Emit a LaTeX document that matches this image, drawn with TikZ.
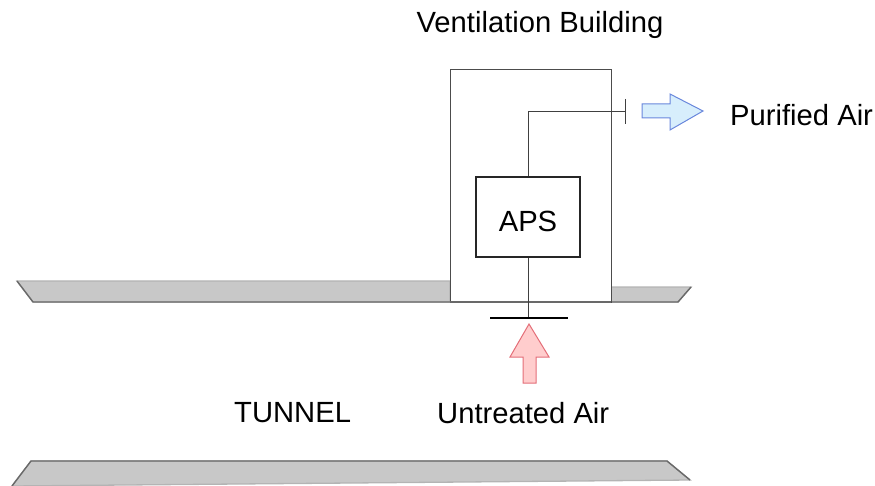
\documentclass[tikz,border=0pt]{standalone}
\usepackage{fontspec}
\setmainfont{Liberation Sans}
\usetikzlibrary{positioning,calc}

\definecolor{slabfill}{RGB}{200,200,200}
\definecolor{slabline}{RGB}{105,105,105}
\definecolor{slabtop}{RGB}{180,180,180}
\definecolor{redfill}{RGB}{255,205,205}
\definecolor{redline}{RGB}{228,110,120}
\definecolor{bluefill}{RGB}{215,238,252}
\definecolor{blueline}{RGB}{105,135,220}

\begin{document}
\begin{tikzpicture}[
  x=1pt,y=-1pt,
  slab/.style={fill=slabfill,draw=slabtop,line width=1.3pt,line join=miter},
  slabedge/.style={draw=slabline,line width=1.4pt,line join=miter},
  bldg/.style={draw=black!70,fill=white,line width=1pt},
  apsbox/.style={draw=black!85,line width=2pt,minimum width=104pt,minimum height=80pt,inner sep=0pt},
  pipe/.style={draw=black!75,line width=1pt},
  bar/.style={draw=black,line width=1.4pt},
  lbl/.style={font=\fontsize{29.2}{33}\selectfont,inner sep=0pt},
  inarrow/.style={fill=redfill,draw=redline,line width=1pt,line join=miter},
  outarrow/.style={fill=bluefill,draw=blueline,line width=1pt,line join=miter},
]
  \useasboundingbox (0,0) rectangle (875,486);

  % tunnel slabs
  \draw[slab] (17,281) -- (450,281) -- (450,302) -- (33,302) -- cycle;
  \draw[slabedge] (17,281) -- (33,302) -- (450,302);
  \draw[slab] (611,287) -- (691,287) -- (678,302) -- (611,302) -- cycle;
  \draw[slabedge] (611,302) -- (678,302) -- (691,287);
  \draw[slab] (31,461) -- (667,461) -- (690,480) -- (12,486) -- cycle;
  \draw[slabedge] (12,486) -- (31,461) -- (667,461) -- (690,480);

  % ventilation building
  \draw[bldg] (450,70) rectangle (611,302);
  \draw[slabedge] (450,302) -- (611,302);
  \node[apsbox] (aps) at (528,217) {};
  \node[lbl,anchor=base] (apstext) at (528,232) {APS};

  % ducts
  \coordinate (outlet) at (625,112);
  \coordinate (inlet) at (528,318);
  \draw[pipe] (aps.north) |- (outlet);
  \draw[pipe] ($(outlet)+(0,-13)$) -- ($(outlet)+(0,12)$);
  \draw[pipe] (aps.south) -- (inlet);
  \draw[bar] ($(inlet)+(-38,0)$) -- ($(inlet)+(40,0)$);

  % air arrows
  \draw[outarrow] (642,104) -- (670,104) -- (670,94) -- (703,111)
    -- (670,130) -- (670,118) -- (642,118) -- cycle;
  \draw[inarrow] (529,324) -- (549,357) -- (536,357) -- (536,383)
    -- (523,383) -- (523,357) -- (510,357) -- cycle;

  % labels
  \node[lbl,anchor=base] (title) at (540,33) {Ventilation Building};
  \node[lbl,anchor=base west] (purified) at (730,126) {Purified Air};
  \node[lbl,anchor=base west] (tunnel) at (234,422) {TUNNEL};
  \node[lbl,anchor=base west] (untreated) at (437,423) {Untreated Air};
\end{tikzpicture}
\end{document}
